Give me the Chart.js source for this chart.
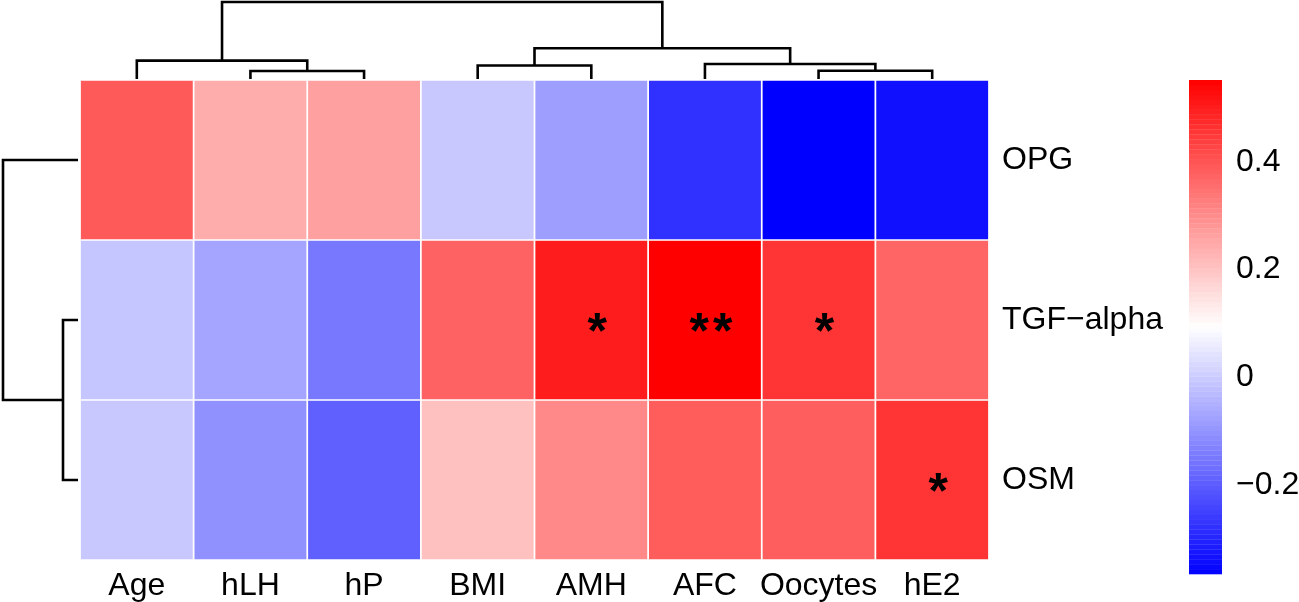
<!DOCTYPE html>
<html>
<head>
<meta charset="utf-8">
<script src="https://cdn.jsdelivr.net/npm/chart.js@4.4.0/dist/chart.umd.min.js"></script>
<style>
  html, body { margin: 0; padding: 0; background: #fff; }
</style>
</head>
<body>
<canvas id="heatGraph" width="1299" height="602"></canvas>
<script>
'use strict';

// columns and rows, in the order the clustering put them
var colLabels = ['Age', 'hLH', 'hP', 'BMI', 'AMH', 'AFC', 'Oocytes', 'hE2'];
var rowLabels = ['OPG', 'TGF\u2212alpha', 'OSM'];

// correlation per row
var opgValues = [0.390, 0.243, 0.264, -0.005, -0.081, -0.279, -0.365, -0.336];
var tgfValues = [-0.011, -0.068, -0.149, 0.376, 0.502, 0.552, 0.457, 0.370];
var osmValues = [-0.005, -0.106, -0.193, 0.207, 0.307, 0.387, 0.383, 0.457];

// significance marks
var opgStars = ['', '', '', '', '', '', '', ''];
var tgfStars = ['', '', '', '', '*', '**', '*', ''];
var osmStars = ['', '', '', '', '', '', '', '*'];

// column tree, hclust style: negative = leaf, positive = earlier merge
var colMergeA = [-2, -1, -4, -7, -6, 3, 2];
var colMergeB = [-3, 1, -5, -8, 4, 5, 6];
var colMergeH = [0.104, 0.238, 0.175, 0.108, 0.195, 0.399, 1.0];

// row tree
var rowMergeA = [-2, -1];
var rowMergeB = [-3, 1];
var rowMergeH = [0.2, 1.0];

// colour key
var keyTicks = [-0.2, 0, 0.2, 0.4];
var keySteps = 100;

var rowValues = [opgValues, tgfValues, osmValues];
var rowStars = [opgStars, tgfStars, osmStars];

var allValues = opgValues.concat(tgfValues, osmValues);
var vMin = Math.min.apply(null, allValues);
var vMax = Math.max.apply(null, allValues);

// layout (pixels)
var area = { left: 80, top: 80, right: 989, bottom: 560 };
var colTreeBase = 79, colTreeTop = 2;
var rowTreeBase = 78, rowTreeTop = 3;
var keyTop = 80, keyBottom = 574, keyWidth = 33;
var labelFont = { family: '"Liberation Sans", Arial, sans-serif', size: 32, lineHeight: 1.2 };

// blue - white - red, like colorRampPalette(c("blue","white","red"))
function heatColor(v) {
  var t = (v - vMin) / (vMax - vMin);
  var r, g, b;
  if (t < 0.5) { r = g = Math.round(510 * t); b = 255; }
  else { r = 255; g = b = Math.round(510 * (1 - t)); }
  return 'rgb(' + r + ',' + g + ',' + b + ')';
}

// min/max a hidden scale needs so value v0 sits on pixel p0 and v1 on p1
function fitRange(v0, p0, v1, p1, start, end) {
  var k = (v1 - v0) / (p1 - p0);
  var a = v0 + (start - p0) * k, b = v0 + (end - p0) * k;
  return a < b ? { min: a, max: b, reverse: false } : { min: b, max: a, reverse: true };
}

// one polyline per merge: up from child a, across, down to child b
function treeLinks(mA, mB, mH, sideways) {
  var pos = [], hgt = [], links = [];
  function node(k) { return k < 0 ? [-k - 1 + 0.5, 0] : [pos[k - 1], hgt[k - 1]]; }
  for (var i = 0; i < mA.length; i++) {
    var a = node(mA[i]), b = node(mB[i]), h = mH[i];
    pos[i] = (a[0] + b[0]) / 2;
    hgt[i] = h;
    links.push([[a[0], a[1]], [a[0], h], [b[0], h], [b[0], b[1]]].map(function (p) {
      return sideways ? { x: p[1], y: p[0] } : { x: p[0], y: p[1] };
    }));
  }
  return links;
}

var thRange = fitRange(0, colTreeBase, 1, colTreeTop, area.bottom, area.top);
var lhRange = fitRange(0, rowTreeBase, 1, rowTreeTop, area.left, area.right);
var cbRange = fitRange(vMax, keyTop, vMin, keyBottom, area.bottom, area.top);

var datasets = [];
rowValues.forEach(function (vals, r) {
  datasets.push({
    type: 'bar',
    data: vals.map(function () { return [r, r + 1]; }),
    backgroundColor: vals.map(heatColor),
    borderColor: '#ffffff',
    borderWidth: 1.2,
    borderSkipped: false,
    grouped: false,
    barPercentage: 1,
    categoryPercentage: 1,
    xAxisID: 'x',
    yAxisID: 'y'
  });
});

function treeDataset(pts, xId, yId) {
  return {
    type: 'line',
    data: pts,
    borderColor: '#000000',
    borderWidth: 2.6,
    borderJoinStyle: 'miter',
    pointRadius: 0,
    fill: false,
    tension: 0,
    clip: false,
    xAxisID: xId,
    yAxisID: yId
  };
}
treeLinks(colMergeA, colMergeB, colMergeH, false).forEach(function (pts) {
  datasets.push(treeDataset(pts, 'dx', 'th'));
});
treeLinks(rowMergeA, rowMergeB, rowMergeH, true).forEach(function (pts) {
  datasets.push(treeDataset(pts, 'lh', 'y'));
});

// colour key bands + the stars in the cells
var heatExtras = {
  id: 'heatExtras',
  afterDatasetsDraw: function (chart) {
    var ctx = chart.ctx;
    var cb = chart.scales.cb;
    ctx.save();
    for (var k = 0; k < keySteps; k++) {
      var v0 = vMin + (vMax - vMin) * k / keySteps;
      var v1 = vMin + (vMax - vMin) * (k + 1) / keySteps;
      var y0 = cb.getPixelForValue(v1), y1 = cb.getPixelForValue(v0);
      ctx.fillStyle = heatColor((v0 + v1) / 2);
      ctx.fillRect(cb.left, y0, keyWidth, y1 - y0 + 0.3);
    }
    ctx.fillStyle = '#000000';
    ctx.font = 'bold 50px "Liberation Sans", Arial, sans-serif';
    ctx.letterSpacing = '4px';
    ctx.textAlign = 'center';
    ctx.textBaseline = 'alphabetic';
    rowStars.forEach(function (stars, r) {
      var meta = chart.getDatasetMeta(r);
      stars.forEach(function (s, c) {
        if (!s) return;
        var el = meta.data[c];
        var m = ctx.measureText(s);
        var cy = (el.y + el.base) / 2 + 2.5;
        ctx.fillText(s, el.x + 8, cy + (m.actualBoundingBoxAscent - m.actualBoundingBoxDescent) / 2);
      });
    });
    ctx.restore();
  }
};

var ctx = document.getElementById('heatGraph').getContext('2d');
var myChart = new Chart(ctx, {
  type: 'bar',
  data: { labels: colLabels, datasets: datasets },
  plugins: [heatExtras],
  options: {
    responsive: false,
    animation: false,
    events: [],
    layout: { padding: { left: area.left, top: area.top, right: 0, bottom: 0 } },
    plugins: { legend: { display: false }, tooltip: { enabled: false } },
    scales: {
      x: {
        type: 'category',
        position: 'bottom',
        grid: { display: false, drawTicks: false },
        border: { display: false },
        ticks: { font: labelFont, color: '#000000', padding: 7, maxRotation: 0, autoSkip: false },
        afterFit: function (s) { s.height = 602 - area.bottom; }
      },
      y: {
        type: 'linear',
        position: 'right',
        min: 0, max: rowLabels.length, reverse: true,
        bounds: 'data',
        grid: { display: false, drawTicks: true, tickLength: 13 },
        border: { display: false },
        afterBuildTicks: function (s) {
          s.ticks = rowLabels.map(function (l, i) { return { value: i + 0.5 }; });
        },
        ticks: {
          font: labelFont, color: '#000000', padding: 0, autoSkip: false,
          callback: function (v) { return rowLabels[Math.floor(v)]; }
        },
        afterFit: function (s) { s.width = 200; }
      },
      cb: {
        type: 'linear',
        axis: 'y',
        position: 'right',
        weight: 1,
        min: cbRange.min, max: cbRange.max,
        bounds: 'data',
        grid: { display: false, drawTicks: true, tickLength: 47 },
        border: { display: false },
        afterBuildTicks: function (s) {
          s.ticks = keyTicks.map(function (v) { return { value: v }; });
        },
        ticks: {
          font: labelFont, color: '#000000', padding: 0, autoSkip: false,
          callback: function (v) { return v < 0 ? '\u2212' + Math.abs(v) : String(v); }
        },
        afterFit: function (s) { s.width = 1299 - area.right - 200; }
      },
      dx: { type: 'linear', axis: 'x', display: false, offset: false, min: 0, max: colLabels.length, bounds: 'data' },
      th: { type: 'linear', axis: 'y', display: false, offset: false, min: thRange.min, max: thRange.max, reverse: thRange.reverse, bounds: 'data' },
      lh: { type: 'linear', axis: 'x', display: false, offset: false, min: lhRange.min, max: lhRange.max, reverse: lhRange.reverse, bounds: 'data' }
    }
  }
});
</script>
</body>
</html>
